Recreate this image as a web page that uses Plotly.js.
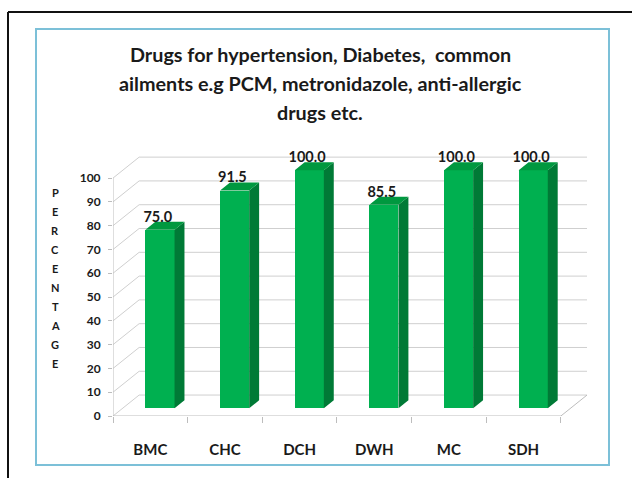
<!DOCTYPE html>
<html>
<head>
<meta charset="utf-8">
<script src="https://cdn.plot.ly/plotly-3.0.1.min.js"></script>
<style>html,body{margin:0;padding:0;background:#fff;}#chart{width:632px;height:478px;}</style>
</head>
<body>
<div id="chart"></div>
<script>
// ---- data ----
var categories = ['BMC', 'CHC', 'DCH', 'DWH', 'MC', 'SDH'];
var values = [75.0, 91.5, 100.0, 85.5, 100.0, 100.0];
var yTicks = [0, 10, 20, 30, 40, 50, 60, 70, 80, 90, 100];
var titleLines = ['Drugs for hypertension, Diabetes,  common',
                  'ailments e.g PCM, metronidazole, anti-allergic',
                  'drugs etc.'];
var axisTitleLetters = ['P','E','R','C','E','N','T','A','G','E'];

// ---- 3D (oblique) projection settings ----
var DX = 0.35, DY = 8.8;       // full floor depth in axis units
var d1 = 0.37, d2 = 0.75;      // bar front / back depth fractions
var BW = 0.39;                 // bar width (category units)
var LABEL_DROP = 1.4;          // pull value labels closer to bar tops
var n = categories.length;
var xLeft = -0.5, xRight = n - 0.5;

var FONT = 'Lato, Open Sans, sans-serif';
var GRID = '#cfcfcf';
var TXT = '#1a1a1a';

// plot area in pixels (for paper conversions)
var L = 113, W = 474, T = 140, H = 276;
function px(x) { return (x - L) / W; }
function py(y) { return (T + H - y) / H; }

var idx = categories.map(function (c, i) { return i; });

// side and top faces
var sx = [], sy = [], tx = [], ty = [];
values.forEach(function (v, i) {
  var xl = i - BW / 2, xr = i + BW / 2;
  sx.push(xr + d1 * DX, xr + d1 * DX, xr + d2 * DX, xr + d2 * DX, xr + d1 * DX, null);
  sy.push(d1 * DY, v + d1 * DY, v + d2 * DY, d2 * DY, d1 * DY, null);
  tx.push(xl + d1 * DX, xr + d1 * DX, xr + d2 * DX, xl + d2 * DX, xl + d1 * DX, null);
  ty.push(v + d1 * DY, v + d1 * DY, v + d2 * DY, v + d2 * DY, v + d1 * DY, null);
});

var traces = [
  { type: 'bar', x: idx.map(function (i) { return i + d1 * DX; }), y: values,
    base: values.map(function () { return d1 * DY; }), width: BW,
    marker: { color: '#00b050', line: { width: 0 } }, showlegend: false },
  { type: 'scatter', mode: 'lines', x: sx, y: sy, fill: 'toself', fillcolor: '#007a36',
    line: { width: 0, color: '#007a36' }, hoverinfo: 'skip', showlegend: false },
  { type: 'scatter', mode: 'lines', x: tx, y: ty, fill: 'toself', fillcolor: '#00983f',
    line: { width: 0, color: '#00983f' }, hoverinfo: 'skip', showlegend: false },
  { type: 'scatter', mode: 'text', x: idx.map(function (i) { return i + 0.1; }),
    y: values.map(function (v) { return v + d2 * DY - LABEL_DROP; }),
    text: values.map(function (v) { return v.toFixed(1); }), textposition: 'top center',
    textfont: { family: FONT, size: 14.5, color: TXT, weight: 700 }, cliponaxis: false,
    hoverinfo: 'skip', showlegend: false }
];

// gridlines (left wall diagonals + back wall horizontals) as shapes below the bars
var shapes = [];
yTicks.forEach(function (v) {
  shapes.push({ type: 'path', xref: 'x', yref: 'y', layer: 'below',
    path: 'M' + xLeft + ',' + v + 'L' + (xLeft + DX) + ',' + (v + DY) + 'L' + (xRight + DX) + ',' + (v + DY),
    line: { color: GRID, width: 1 } });
});
// floor front & right edges and front value axis
shapes.push({ type: 'path', xref: 'x', yref: 'y', layer: 'below',
  path: 'M' + xLeft + ',' + yTicks[yTicks.length - 1] + 'L' + xLeft + ',0L' + xRight + ',0L' + (xRight + DX) + ',' + DY,
  line: { color: '#bdbdbd', width: 1 } });
// frames
shapes.push({ type: 'rect', xref: 'paper', yref: 'paper', x0: px(36), x1: px(609), y0: py(465), y1: py(29),
  line: { color: '#7cc0d8', width: 2 }, fillcolor: 'rgba(0,0,0,0)', layer: 'below' });
shapes.push({ type: 'line', xref: 'paper', yref: 'paper', x0: px(8), x1: px(640), y0: py(12), y1: py(12),
  line: { color: '#111', width: 2 } });
shapes.push({ type: 'line', xref: 'paper', yref: 'paper', x0: px(8), x1: px(8), y0: py(12), y1: py(490),
  line: { color: '#111', width: 2 } });

var annotations = [];
var titleY = [54, 83, 112];
titleLines.forEach(function (t, i) {
  annotations.push({ xref: 'paper', yref: 'paper', x: px(320), y: py(titleY[i]), text: t,
    showarrow: false, xanchor: 'center', yanchor: 'middle',
    font: { family: FONT, size: 19.8, color: TXT, weight: 700 } });
});
axisTitleLetters.forEach(function (ch, i) {
  annotations.push({ xref: 'paper', yref: 'paper', x: px(55), y: py(192 + i * 19), text: ch,
    showarrow: false, xanchor: 'center', yanchor: 'middle',
    font: { family: FONT, size: 11, color: TXT, weight: 700 } });
});

var layout = {
  width: 632, height: 478,
  margin: { l: L, r: 632 - L - W, t: T, b: 478 - T - H, pad: 0 },
  paper_bgcolor: '#ffffff', plot_bgcolor: 'rgba(0,0,0,0)',
  showlegend: false,
  xaxis: {
    range: [xLeft, xRight + DX], tickmode: 'array', tickvals: idx, ticktext: categories,
    ticks: '', showgrid: false, zeroline: false, showline: false, fixedrange: true,
    ticklabelstandoff: 23,
    tickfont: { family: FONT, size: 15, color: TXT, weight: 700 },
    minor: { tickmode: 'linear', tick0: -0.5, dtick: 1, ticks: 'outside', ticklen: 6, tickcolor: '#bdbdbd', tickwidth: 1, showgrid: false }
  },
  yaxis: {
    range: [0, 116], tickmode: 'array', tickvals: yTicks, ticktext: yTicks.map(String),
    ticks: 'outside', ticklen: 4, tickcolor: '#bdbdbd', showgrid: false, zeroline: false, showline: false,
    fixedrange: true, ticklabelstandoff: 5,
    tickfont: { family: FONT, size: 12, color: TXT, weight: 700 }
  },
  annotations: annotations,
  shapes: shapes,
  bargap: 0
};

Plotly.newPlot('chart', traces, layout, { displayModeBar: false, staticPlot: true });
</script>
</body>
</html>
